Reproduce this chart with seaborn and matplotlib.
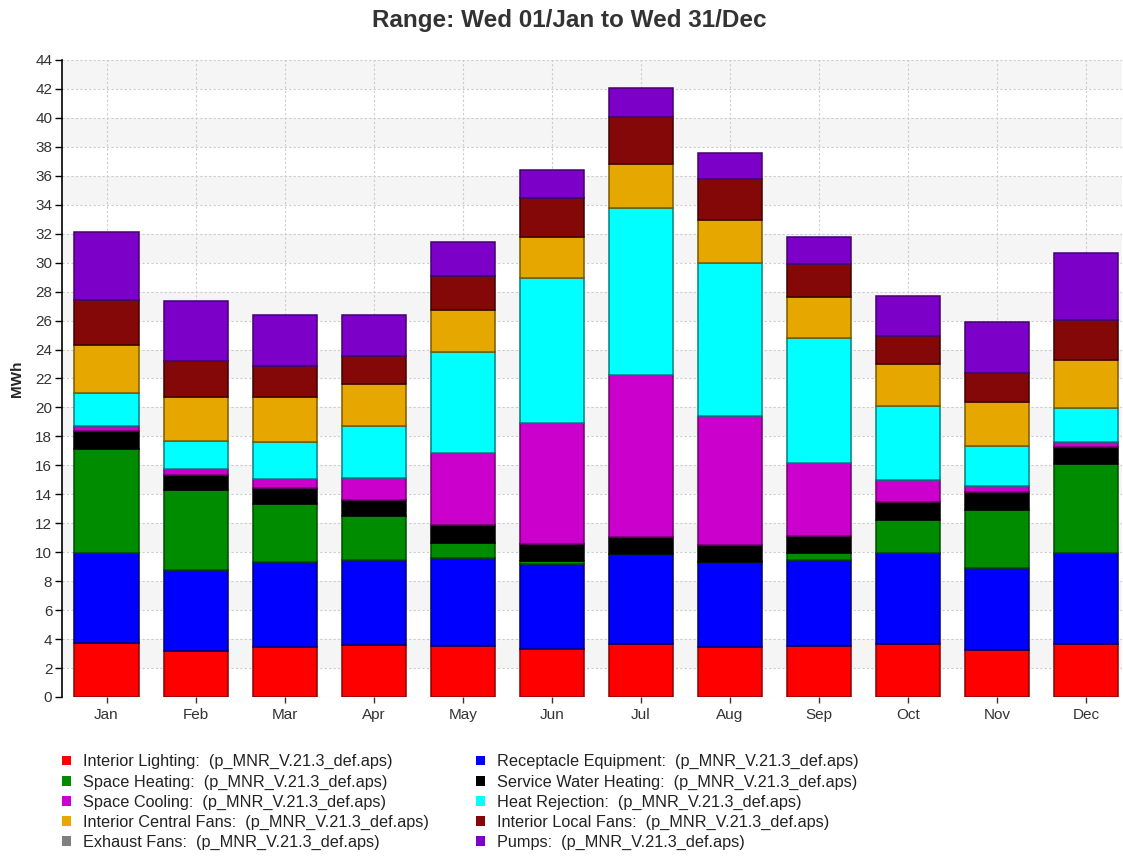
import matplotlib
matplotlib.use("Agg")
import matplotlib.pyplot as plt
from matplotlib.patches import Patch
import numpy as np
import seaborn as sns

sns.set_style("white")
plt.rcParams["font.family"] = ["Liberation Sans", "DejaVu Sans"]

months = ["Jan", "Feb", "Mar", "Apr", "May", "Jun", "Jul", "Aug", "Sep", "Oct", "Nov", "Dec"]

interior_lighting = [3.70, 3.18, 3.46, 3.57, 3.52, 3.34, 3.69, 3.46, 3.52, 3.69, 3.27, 3.69]
receptacle_equipment = [6.25, 5.58, 5.87, 5.88, 6.11, 5.88, 6.17, 5.87, 5.93, 6.26, 5.67, 6.26]
space_heating = [7.20, 5.52, 4.03, 3.04, 1.04, 0.18, 0.00, 0.00, 0.50, 2.31, 4.01, 6.11]
service_water_heating = [1.25, 1.04, 1.08, 1.15, 1.24, 1.20, 1.20, 1.20, 1.15, 1.22, 1.18, 1.22]
space_cooling = [0.30, 0.42, 0.65, 1.50, 4.91, 8.36, 11.17, 8.89, 5.03, 1.54, 0.45, 0.34]
heat_rejection = [2.30, 1.93, 2.49, 3.59, 7.02, 9.95, 11.52, 10.57, 8.68, 5.07, 2.75, 2.31]
interior_central_fans = [3.30, 3.06, 3.15, 2.88, 2.88, 2.88, 3.04, 2.95, 2.79, 2.88, 3.06, 3.34]
interior_local_fans = [3.10, 2.47, 2.10, 1.94, 2.35, 2.65, 3.29, 2.82, 2.30, 1.97, 2.00, 2.76]
exhaust_fans = [0, 0, 0, 0, 0, 0, 0, 0, 0, 0, 0, 0]
pumps = [4.75, 4.17, 3.55, 2.85, 2.33, 1.96, 1.96, 1.84, 1.85, 2.76, 3.48, 4.61]

series_names = ["Interior Lighting", "Receptacle Equipment", "Space Heating", "Service Water Heating",
                "Space Cooling", "Heat Rejection", "Interior Central Fans", "Interior Local Fans",
                "Exhaust Fans", "Pumps"]
series_values = [interior_lighting, receptacle_equipment, space_heating, service_water_heating,
                 space_cooling, heat_rejection, interior_central_fans, interior_local_fans,
                 exhaust_fans, pumps]
colors = ["#ff0000", "#0000ff", "#008c00", "#000000", "#cc00cc", "#00ffff",
          "#e6a800", "#850808", "#808080", "#7d00c8"]
edge_colors = ["#8c0000", "#00006e", "#004d00", "#000000", "#700070", "#008080",
               "#7a5a00", "#3d0000", "#404040", "#43006e"]
source = "(p_MNR_V.21.3_def.aps)"

fig = plt.figure(figsize=(11.23, 8.57), dpi=100)
ax = fig.add_axes([0.0552, 0.1867, 0.9438, 0.7433])

# alternating bands behind the grid
for k in range(1, 22, 2):
    ax.axhspan(2 * k, 2 * k + 2, color="#f5f5f5", zorder=0, lw=0)

bottom = np.zeros(len(months))
for name, vals, c, ec in zip(series_names, series_values, colors, edge_colors):
    sns.barplot(x=months, y=vals, order=months, color=c, bottom=bottom, width=0.72,
                edgecolor=ec, linewidth=1.1, saturation=1, ax=ax, zorder=3)
    bottom = bottom + np.array(vals)

ax.set_ylim(0, 44)
ax.set_xlim(-0.5, 11.4)
ax.set_yticks(range(0, 45, 2))
ax.grid(True, axis="both", linestyle=(0, (2, 2)), color="#cccccc", linewidth=0.8, zorder=1)
ax.set_axisbelow(True)
for s in ["top", "right", "bottom"]:
    ax.spines[s].set_visible(False)
ax.spines["left"].set_color("black")
ax.spines["left"].set_linewidth(1.2)
ax.tick_params(axis="y", left=True, length=5, width=1, color="black", labelsize=11, labelcolor="#333333", pad=2)
ax.tick_params(axis="x", bottom=True, length=4, width=1, color="#333333", labelsize=11, labelcolor="#333333", pad=4)
ax.set_xlabel("")
ax.set_ylabel("MWh", fontsize=11, fontweight="bold", labelpad=8)

fig.suptitle("Range: Wed 01/Jan to Wed 31/Dec", fontsize=17.5, fontweight="bold", color="#333333",
             x=0.507, y=0.99)

handles = [Patch(facecolor=c, edgecolor="none", label="%s:  %s" % (n, source))
           for n, c in zip(series_names, colors)]
order = [0, 2, 4, 6, 8, 1, 3, 5, 7, 9]
fig.legend([handles[i] for i in order], [handles[i].get_label() for i in order],
           ncol=2, loc="upper left", bbox_to_anchor=(0.0423, 0.137), frameon=False,
           fontsize=11.7, handlelength=0.55, handleheight=0.55, handletextpad=0.75,
           columnspacing=2.9, labelspacing=0.31, labelcolor="#222222")

fig.savefig("out.png", dpi=100)
